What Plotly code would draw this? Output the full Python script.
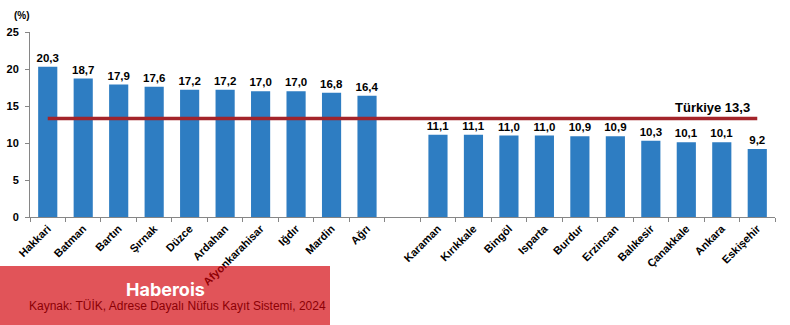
import plotly.graph_objects as go

# Provinces with the highest and lowest shares, a blank slot separates the two groups
high_provinces = ["Hakkari", "Batman", "Bartın", "Şırnak", "Düzce", "Ardahan",
                  "Afyonkarahisar", "Iğdır", "Mardin", "Ağrı"]
high_values = [20.3, 18.7, 17.9, 17.6, 17.2, 17.2, 17.0, 17.0, 16.8, 16.4]
low_provinces = ["Karaman", "Kırıkkale", "Bingöl", "Isparta", "Burdur", "Erzincan",
                 "Balıkesir", "Çanakkale", "Ankara", "Eskişehir"]
low_values = [11.1, 11.1, 11.0, 11.0, 10.9, 10.9, 10.3, 10.1, 10.1, 9.2]
turkiye_value = 13.3
y_ticks = [0, 5, 10, 15, 20, 25]

gap = " "
categories = high_provinces + [gap] + low_provinces
values = high_values + [None] + low_values
labels = [("" if v is None else f"{v:.1f}".replace(".", ",")) for v in values]

FONT = "Arial, Liberation Sans, sans-serif"
BAR = "#2E7DC2"
LINE = "#A3242A"

fig = go.Figure()
fig.add_trace(go.Bar(
    x=categories, y=values, text=labels, textposition="outside",
    constraintext="none",
    textfont=dict(family=FONT, size=11.5, color="#000000", weight="bold"),
    marker=dict(color=BAR, line=dict(width=0)),
    cliponaxis=False, hoverinfo="skip",
))
# National average reference line
fig.add_trace(go.Scatter(
    x=[categories[0], categories[-1]], y=[turkiye_value, turkiye_value],
    mode="lines", line=dict(color=LINE, width=3.5), hoverinfo="skip",
))

fig.update_layout(
    width=790, height=325,
    margin=dict(l=30, r=15, t=32, b=108, autoexpand=False),
    paper_bgcolor="white", plot_bgcolor="white",
    showlegend=False, bargap=0.46,
    font=dict(family=FONT, color="#000000"),
)
fig.update_xaxes(
    type="category", categoryorder="array", categoryarray=categories,
    tickson="boundaries", ticks="outside", ticklen=4, tickcolor="#868686",
    showline=True, linecolor="#868686", linewidth=1, automargin=False,
    tickangle=-45, tickfont=dict(family=FONT, size=11, weight="bold"),
    showgrid=False, range=[-0.5, len(categories) - 0.5],
)
fig.update_yaxes(
    range=[0, 25], tickvals=y_ticks, ticktext=[str(t) for t in y_ticks],
    ticks="outside", ticklen=4, tickcolor="#868686",
    showline=True, linecolor="#868686", linewidth=1, automargin=False,
    showgrid=False, zeroline=False, ticklabelstandoff=4,
    tickfont=dict(family=FONT, size=11, weight="bold"),
)

fig.add_annotation(
    text="(%)", xref="paper", yref="paper", x=-0.011, y=1.05,
    xanchor="center", yanchor="bottom", showarrow=False,
    font=dict(family=FONT, size=10, weight="bold"),
)
fig.add_annotation(
    text=f"Türkiye {turkiye_value:.1f}".replace(".", ","),
    xref="paper", yref="y", x=0.969, y=turkiye_value,
    xanchor="right", yanchor="bottom", yshift=2, showarrow=False,
    font=dict(family=FONT, size=13, weight="bold"),
)

# Branding banner with the source line
fig.add_shape(
    type="rect", xref="paper", yref="paper", layer="above",
    x0=-30 / 745, x1=300 / 745, y0=-108 / 185, y1=-49 / 185,
    fillcolor="rgba(210,0,8,0.67)", line=dict(width=0),
)
fig.add_annotation(
    text="Haberois", xref="paper", yref="paper",
    x=135 / 745, y=-72 / 185, xanchor="center", yanchor="middle", showarrow=False,
    font=dict(family="Inter, DejaVu Sans, sans-serif", size=18, color="white", weight="bold"),
)
fig.add_annotation(
    text="Kaynak: TÜİK, Adrese Dayalı Nüfus Kayıt Sistemi, 2024",
    xref="paper", yref="paper", x=-3 / 745, y=-89 / 185,
    xanchor="left", yanchor="middle", showarrow=False,
    font=dict(family=FONT, size=12, color="rgb(140,0,5)"),
)

fig.write_html("out.html")
